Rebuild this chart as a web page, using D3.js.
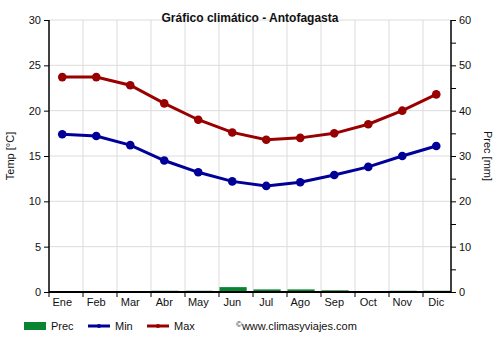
<!DOCTYPE html>
<html><head><meta charset="utf-8">
<script src="https://cdn.jsdelivr.net/npm/d3@7"></script>
<style>body{margin:0;background:#fff}svg{display:block;font-family:"Liberation Sans",Arial,sans-serif}</style>
</head><body>
<svg id="c" width="500" height="350"></svg>
<script>
const months = ["Ene","Feb","Mar","Abr","May","Jun","Jul","Ago","Sep","Oct","Nov","Dic"];
const tempMax = [23.7,23.7,22.8,20.8,19.0,17.6,16.8,17.0,17.5,18.5,20.0,21.8];
const tempMin = [17.4,17.2,16.2,14.5,13.2,12.2,11.7,12.1,12.9,13.8,15.0,16.1];
const prec = [0,0,0,0.1,0.1,0.9,0.4,0.4,0.2,0,0.1,0.1];
const tempTicks = [0,5,10,15,20,25,30];
const precTicks = [0,10,20,30,40,50,60];

const svg = d3.select("#c");
const L = 49, R = 451, T = 20, B = 292;
const x = d3.scaleBand().domain(months).range([L, L + 408]).padding(0);
const bw = x.bandwidth();
const yT = d3.scaleLinear().domain([0,30]).range([B, T]);
const yP = d3.scaleLinear().domain([0,60]).range([B, T]);
const cx = m => x(m) + bw * 0.39;

// grid
const g = svg.append("g");
g.selectAll("line.h").data(tempTicks.slice(1)).join("line")
  .attr("x1", L).attr("x2", R).attr("y1", d => yT(d)).attr("y2", d => yT(d))
  .attr("stroke", "#dcdcdc").attr("stroke-width", 1);
g.selectAll("line.v").data(months.slice(1)).join("line")
  .attr("x1", d => x(d)).attr("x2", d => x(d)).attr("y1", T).attr("y2", B)
  .attr("stroke", "#dcdcdc").attr("stroke-width", 1);

// prec bars
svg.append("g").selectAll("rect").data(prec).join("rect")
  .attr("x", (d,i) => x(months[i]) + 0.5)
  .attr("width", bw * 0.8)
  .attr("y", d => yP(d) - 0.8)
  .attr("height", d => d > 0 ? B - yP(d) + 0.8 : 0)
  .attr("fill", "#098532");

// axes
const left = d3.axisLeft(yT).tickValues(tempTicks).tickSize(5).tickPadding(3);
const la = svg.append("g").attr("transform", `translate(${L},0)`).call(left);
const right = d3.axisRight(yP).tickValues(d3.range(0,61,5)).tickSize(5).tickPadding(3)
  .tickFormat(d => d % 10 === 0 ? d : "");
const ra = svg.append("g").attr("transform", `translate(${R},0)`).call(right);
const bottom = d3.axisBottom(x).tickSize(0).tickPadding(6);
const ba = svg.append("g").attr("transform", `translate(0,${B})`).call(bottom);
ba.selectAll(".tick text").attr("x", (bw*0.39 - bw/2));
ba.select(".domain").remove();
svg.append("g").selectAll("line").data(months).join("line")
  .attr("x1", d => x(d)).attr("x2", d => x(d)).attr("y1", B).attr("y2", B + 5)
  .attr("stroke", "#000");
svg.append("line").attr("x1", L).attr("x2", R).attr("y1", B).attr("y2", B).attr("stroke", "#000").attr("stroke-width", 2);
[la, ra, ba].forEach(a => {
  a.selectAll("text").attr("font-size", 11).attr("fill", "#111").attr("font-family", "Liberation Sans, Arial, sans-serif");
  a.select(".domain").attr("stroke", "#000").attr("stroke-width", 1.5);
});
la.select(".domain").attr("d", `M0,${T}V${B}`);
ra.select(".domain").attr("d", `M0,${T}V${B}`);

// lines
function series(data, color) {
  const line = d3.line().x((d,i) => cx(months[i])).y(d => yT(d));
  svg.append("path").datum(data).attr("d", line).attr("fill", "none")
    .attr("stroke", color).attr("stroke-width", 3);
  svg.append("g").selectAll("circle").data(data).join("circle")
    .attr("cx", (d,i) => cx(months[i])).attr("cy", d => yT(d)).attr("r", 4.3).attr("fill", color);
}
series(tempMin, "#000099");
series(tempMax, "#990000");

// title and labels
svg.append("text").attr("x", 250).attr("y", 22).attr("text-anchor", "middle")
  .attr("font-size", 12).attr("font-weight", "bold").attr("fill", "#111").text("Gráfico climático - Antofagasta");
svg.append("text").attr("transform", "translate(14,156) rotate(-90)").attr("text-anchor", "middle")
  .attr("font-size", 11).attr("fill", "#111").text("Temp [°C]");
svg.append("text").attr("transform", "translate(484,156) rotate(90)").attr("text-anchor", "middle")
  .attr("font-size", 11).attr("fill", "#111").text("Prec [mm]");

// legend
const lg = svg.append("g");
lg.append("rect").attr("x", 24).attr("y", 322).attr("width", 22).attr("height", 8).attr("fill", "#098532");
lg.append("text").attr("x", 51).attr("y", 330).attr("font-size", 11).attr("fill", "#111").text("Prec");
[[88, "#000099", "Min"], [147, "#990000", "Max"]].forEach(([lx, c, t]) => {
  lg.append("line").attr("x1", lx).attr("x2", lx + 22).attr("y1", 326).attr("y2", 326).attr("stroke", c).attr("stroke-width", 3);
  lg.append("circle").attr("cx", lx + 11).attr("cy", 326).attr("r", 2).attr("fill", c);
  lg.append("text").attr("x", lx + 27).attr("y", 330).attr("font-size", 11).attr("fill", "#111").text(t);
});
const cr = lg.append("text").attr("x", 236).attr("y", 330).attr("font-size", 11).attr("fill", "#111");
cr.append("tspan").attr("font-size", 8).attr("dy", -3).text("©");
cr.append("tspan").attr("dy", 3).text("www.climasyviajes.com");
</script>
</body></html>
